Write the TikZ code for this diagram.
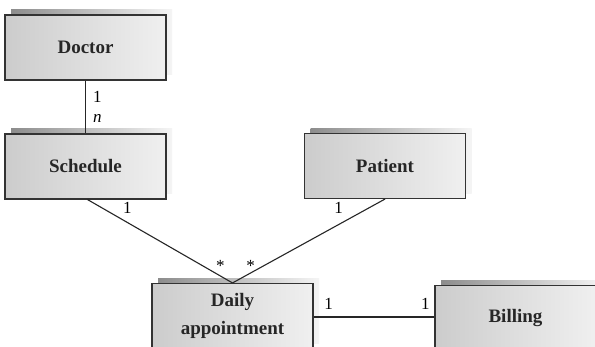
\documentclass[tikz,border=0pt]{standalone}
\usepackage{fontspec}
\setmainfont{Liberation Serif}
\usetikzlibrary{positioning,calc}
\definecolor{erborda}{HTML}{333333}
\definecolor{ersombra}{HTML}{8C8C8C}
\tikzset{
  erbox/.style={draw=erborda, line width=1.1pt, left color=black!20, right color=black!6,
                minimum width=161pt, minimum height=65pt, align=center,
                font=\fontsize{19}{28}\selectfont\bfseries, text=black!85,
                preaction={left color=ersombra, right color=black!4,
                           transform canvas={xshift=6pt, yshift=5pt}, draw=none}},
  erlink/.style={line width=1.1pt, draw=black!85},
  ermult/.style={font=\fontsize{17}{20}\selectfont, inner sep=2pt},
}
\begin{document}
\begin{tikzpicture}[x=1pt, y=-1pt]
  \useasboundingbox (0,0) rectangle (595,347);
  \clip (0,0) rectangle (595,347);
  \fill[white] (0,0) rectangle (595,347);
  \node[erbox] (doctor) at (85.5,47.5) {Doctor};
  \node[erbox] (schedule) at (85.5,166.5) {Schedule};
  \node[erbox] (patient) at (385,166) {Patient};
  \node[erbox] (daily) at (232.5,316) {Daily\\ appointment};
  \node[erbox] (billing) at (515.5,318) {Billing};
  \draw[erlink] (doctor.south) -- node[ermult, pos=0.3, right, xshift=5pt] {1}
                                 node[ermult, pos=0.72, right, xshift=5pt] {\itshape n} (schedule.north);
  \draw[erlink] ([xshift=2pt]schedule.south) -- node[ermult, pos=0.2, above right, xshift=4pt] {1}
                                 node[ermult, pos=0.87, above right, yshift=-2pt] {*} (daily.north);
  \draw[erlink] (patient.south) -- node[ermult, pos=0.2, above left, xshift=-9pt] {1}
                                 node[ermult, pos=0.87, above left, xshift=5pt, yshift=-2pt] {*} (daily.north);
  \draw[erlink] ([yshift=-1pt]daily.east) -- node[ermult, pos=0.1, above, xshift=3pt, yshift=5pt] {1}
                                 node[ermult, pos=0.9, above, xshift=3pt, yshift=5pt] {1} ([yshift=-1pt]daily.east -| billing.west);
\end{tikzpicture}
\end{document}
